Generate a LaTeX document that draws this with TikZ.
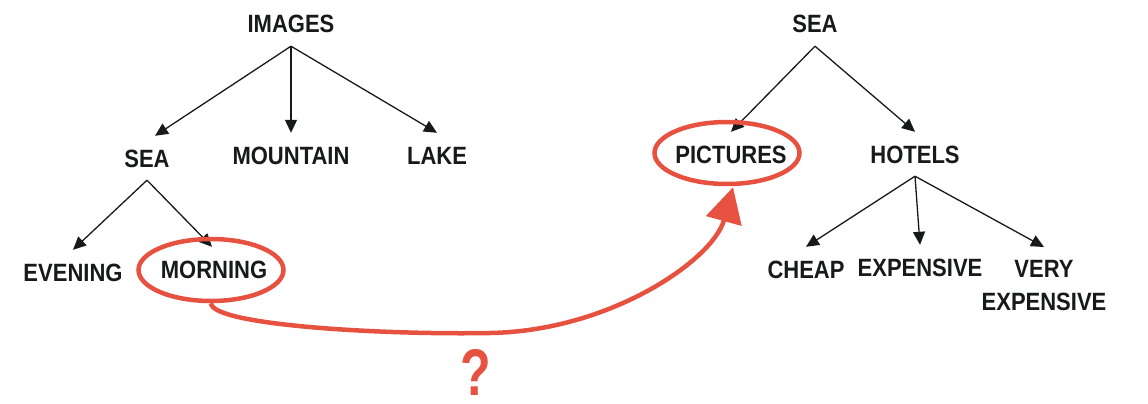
\documentclass[tikz,border=0pt]{standalone}
\usepackage{fontspec}
\newfontfamily\lblfont{Liberation Sans}[FakeStretch=0.88]
\newfontfamily\qfont{Liberation Sans}[FakeStretch=0.76]
\usetikzlibrary{arrows.meta,shapes.geometric}
\definecolor{ink}{RGB}{22,26,24}
\definecolor{mark}{RGB}{231,81,64}
\begin{document}
\begin{tikzpicture}[x=1pt,y=-1pt,
  lbl/.style={font=\lblfont\bfseries\fontsize{25}{33}\selectfont, text=ink,
    inner xsep=0pt, inner ysep=13pt, text height=18pt, text depth=0pt},
  lbltwo/.style={font=\lblfont\bfseries\fontsize{25}{33}\selectfont, text=ink,
    inner xsep=0pt, inner ysep=13pt, align=center},
  arr/.style={draw=ink, line width=1.3pt, -{Triangle[length=13pt,width=12pt]}},
  ring/.style={ellipse, draw=mark, line width=4.5pt, minimum width=145pt,
    minimum height=62pt, inner sep=0pt},
  link/.style={draw=mark, line width=4.5pt, -{Triangle[length=35pt,width=36pt]}}
]
\useasboundingbox (0,0) rectangle (1148,404);

% left tree
\node[lbl] (images)   at (291,24)  {IMAGES};
\node[lbl] (seaL)     at (147,158) {SEA};
\node[lbl] (mountain) at (291,155) {MOUNTAIN};
\node[lbl] (lake)     at (437,155) {LAKE};
\node[lbl] (evening)  at (73,272)  {EVENING};
\node[lbl] (morning)  at (214,269) {MORNING};

% right tree
\node[lbl] (seaR)      at (815,24)  {SEA};
\node[lbl] (pictures)  at (731,154) {PICTURES};
\node[lbl] (hotels)    at (915,154) {HOTELS};
\node[lbl] (cheap)     at (806,269) {CHEAP};
\node[lbl] (expensive) at (920,267) {EXPENSIVE};
\node[lbltwo, anchor=north] (very) at (1044,247) {VERY\\EXPENSIVE};

% tree edges
\draw[arr] (images.south) -- ([xshift=8pt]seaL.north);
\draw[arr] (images.south) -- (mountain.north);
\draw[arr] (images.south) -- (lake.north);
\draw[arr] (seaL.south) -- (evening.north);
\draw[arr] (seaL.south) -- ([xshift=-2pt]morning.north);
\draw[arr] (seaR.south) -- (pictures.north);
\draw[arr] (seaR.south) -- (hotels.north);
\draw[arr] (hotels.south) -- (cheap.north);
\draw[arr] (hotels.south) -- (expensive.north);
\draw[arr] (hotels.south) -- (very.north);

% highlighted terms and the link between them
\node[ring] (mring) at (211,270) {};
\node[ring] (pring) at (727,153) {};
\draw[link] (mring.south) .. controls (212,325) and (380,335) .. (490,333)
  .. controls (610,331) and (713,260) .. ([xshift=6pt,yshift=-1pt]pring.south);

\node[text=mark, inner sep=0pt, font=\qfont\bfseries\fontsize{66}{66}\selectfont] (q) at (476,372) {?};
\end{tikzpicture}
\end{document}
